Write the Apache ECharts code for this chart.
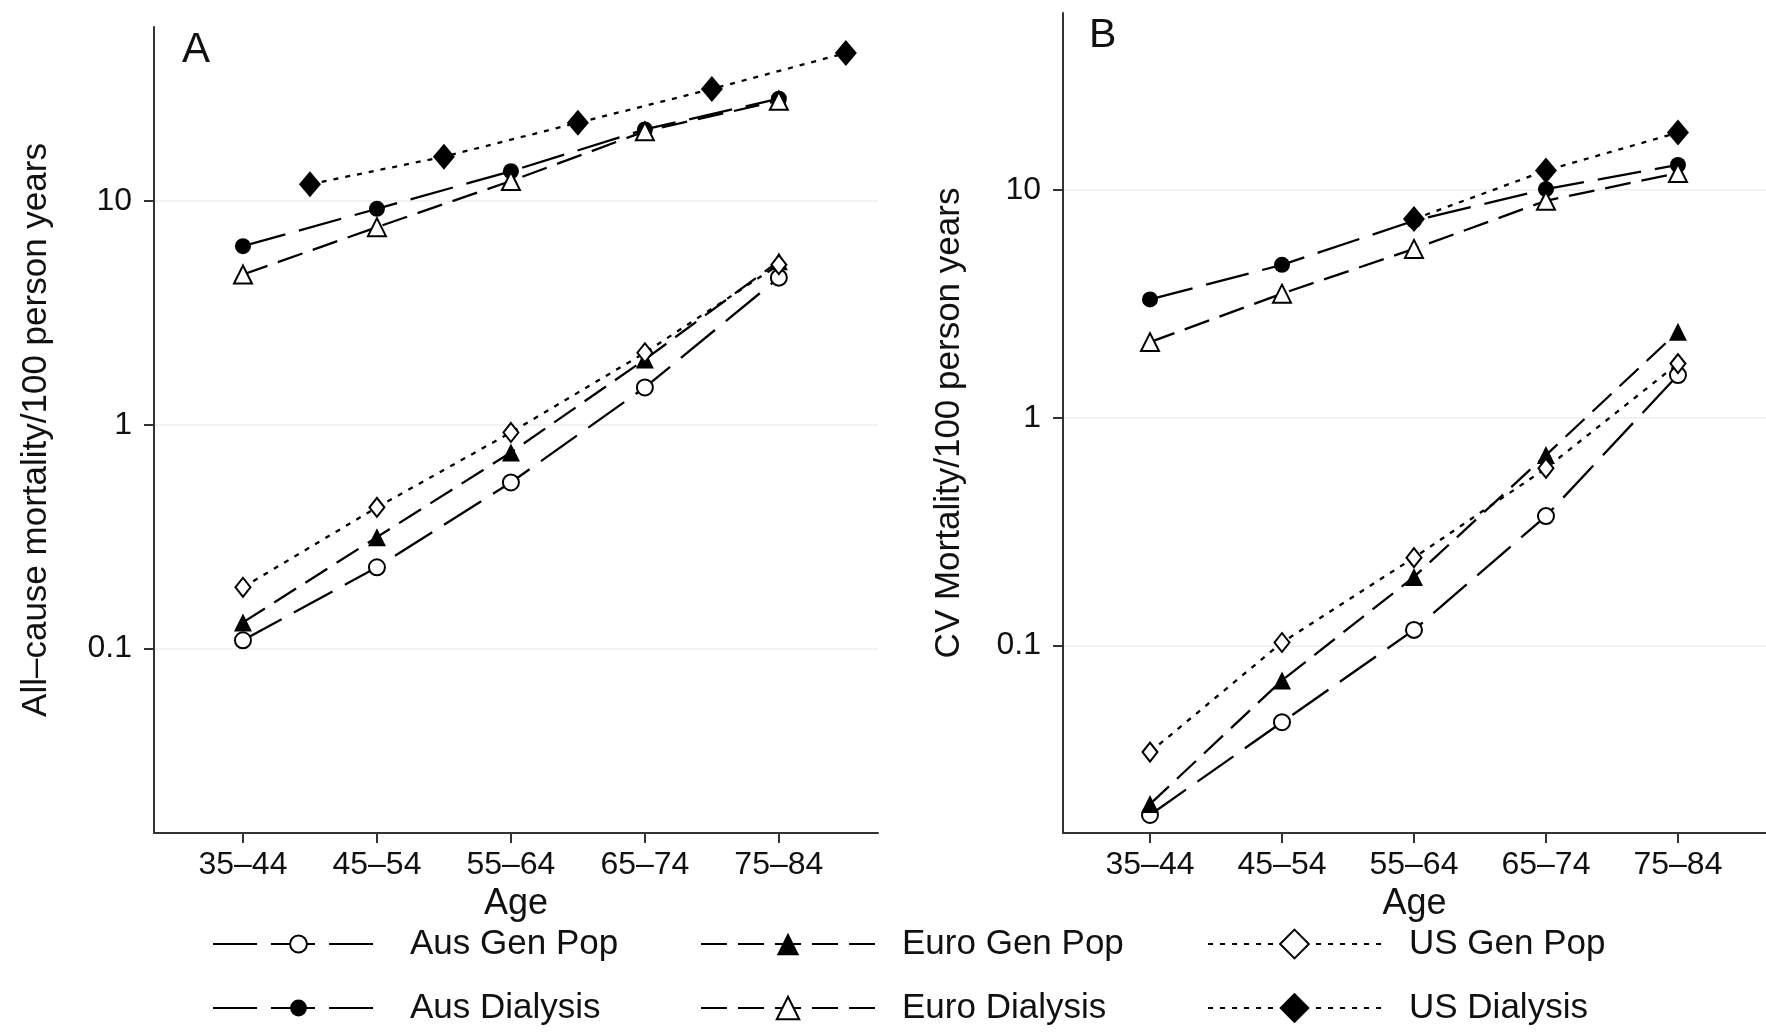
<!DOCTYPE html>
<html><head><meta charset="utf-8">
<script src="https://cdn.jsdelivr.net/npm/echarts@6/dist/echarts.min.js"></script>
<style>html,body{margin:0;padding:0;background:#fff}#c{width:1766px;height:1033px}</style>
</head><body><div id="c"></div>
<script>
const ageGroups = ['35–44','45–54','55–64','65–74','75–84'];
const agePos = [0, 1, 2, 3, 4];
const yTicks = [0.1, 1, 10];

// Panel A: all-cause mortality / 100 person years
const A_ausGen   = [0.109, 0.231, 0.553, 1.47, 4.55];
const A_euroGen  = [0.131, 0.315, 0.753, 1.96, 5.39];
const A_usGen    = [0.188, 0.428, 0.925, 2.10, 5.2];
const A_ausDial  = [6.29, 9.24, 13.6, 20.9, 28.7];
const A_euroDial = [4.70, 7.65, 12.3, 20.5, 28.1];
const A_usDialPos = [0.5, 1.5, 2.5, 3.5, 4.5];
const A_usDial   = [11.9, 15.8, 22.4, 31.7, 45.9];

// Panel B: CV mortality / 100 person years
const B_ausGen   = [0.0180, 0.046, 0.117, 0.370, 1.54];
const B_euroGen  = [0.0201, 0.0702, 0.200, 0.686, 2.39];
const B_usGen    = [0.034, 0.103, 0.243, 0.600, 1.73];
const B_ausDial  = [3.31, 4.70, 7.34, 10.1, 12.9];
const B_euroDial = [2.15, 3.51, 5.52, 8.98, 11.9];
const B_usDialPos = [2, 3, 4];
const B_usDial   = [7.46, 12.2, 17.9];

const FONT = '"Liberation Sans", Arial, Helvetica, sans-serif';
const styles = {
  'Aus Gen Pop':   {dash:[44,14], symbol:'circle',   size:16, open:true,  leg:21},
  'Aus Dialysis':  {dash:[44,14], symbol:'circle',   size:16, open:false, leg:21},
  'Euro Gen Pop':  {dash:[26,11], symbol:'triangle', size:18, open:false, leg:28},
  'Euro Dialysis': {dash:[26,11], symbol:'triangle', size:18, open:true,  leg:28},
  'US Gen Pop':    {dash:[5,7],   symbol:'diamond',  size:[15,19], open:true,  leg:36},
  'US Dialysis':   {dash:[5,7],   symbol:'diamond',  size:[22,26], open:false, leg:38}
};
const pair = (xs, ys) => ys.map((v, i) => [xs[i], v]);

function mk(name, g, data) {
  const s = styles[name];
  return {
    name, type: 'line', xAxisIndex: g, yAxisIndex: g, data,
    symbol: s.symbol, symbolSize: s.size, showSymbol: true, showAllSymbol: true,
    lineStyle: {color: '#000', width: 2.3, type: s.dash},
    itemStyle: {color: s.open ? '#fff' : '#000', borderColor: '#000', borderWidth: s.open ? 2 : 0},
    emphasis: {disabled: true}, z: 3
  };
}

const fmtY = v => (v < 1 ? v.toFixed(1) : String(Math.round(v)));
const axisCol = '#333';
function yAx(g, name, gap) {
  return {
    type: 'log', logBase: 10, min: 0.015, max: 60, gridIndex: g,
    axisLine: {show: true, onZero: false, lineStyle: {color: axisCol, width: 2}},
    axisTick: {show: true, length: 10, customValues: yTicks, lineStyle: {color: axisCol, width: 2}},
    axisLabel: {customValues: yTicks, formatter: fmtY, fontSize: 32, color: '#111', margin: 22, fontFamily: FONT},
    splitLine: {show: true, lineStyle: {color: '#eeeeee', width: 1.5}},
    minorTick: {show: false}, minorSplitLine: {show: false},
    name, nameLocation: 'middle', nameGap: gap,
    nameTextStyle: {fontSize: 35, color: '#111', fontFamily: FONT}
  };
}
function xAx(g, min, max) {
  return {
    type: 'value', min, max, gridIndex: g,
    axisLine: {show: true, onZero: false, lineStyle: {color: axisCol, width: 2}},
    axisTick: {show: true, length: 10, customValues: agePos, lineStyle: {color: axisCol, width: 2}},
    axisLabel: {customValues: agePos, formatter: v => ageGroups[Math.round(v)], fontSize: 32, color: '#111', margin: 16, fontFamily: FONT},
    splitLine: {show: false},
    name: 'Age', nameLocation: 'middle', nameGap: 50,
    nameTextStyle: {fontSize: 36, color: '#111', fontFamily: FONT}
  };
}

const legendCols = [
  {x: 212, w: 171, pad: 21},
  {x: 700, w: 174, pad: 22},
  {x: 1207, w: 173, pad: 23}
];
const legendRows = [944, 1008];
const legendLayout = [
  ['Aus Gen Pop', 0, 0], ['Euro Gen Pop', 1, 0], ['US Gen Pop', 2, 0],
  ['Aus Dialysis', 0, 1], ['Euro Dialysis', 1, 1], ['US Dialysis', 2, 1]
];
const legends = legendLayout.map(([name, c, r]) => {
  const col = legendCols[c];
  const ih = styles[name].leg;
  return {
    data: [name], left: col.x, top: legendRows[r] - 20, padding: 0,
    itemWidth: col.w, itemHeight: ih, selectedMode: false,
    textStyle: {fontSize: 35, color: '#111', fontFamily: FONT, lineHeight: 40, padding: [0, 0, 0, col.pad]}
  };
});

const option = {
  animation: false,
  backgroundColor: '#fff',
  grid: [
    {left: 154, top: 27, width: 724, bottom: 200, containLabel: false},
    {left: 1063, top: 13, right: 0, bottom: 200, containLabel: false}
  ],
  xAxis: [xAx(0, -0.664, 4.74), xAx(1, -0.659, 4.667)],
  yAxis: [yAx(0, 'All–cause mortality/100 person years', 100), yAx(1, 'CV Mortality/100 person years', 96)],
  legend: legends,
  graphic: [
    {type: 'text', left: 182, top: 29, style: {text: 'A', fontSize: 42, fill: '#111', fontFamily: FONT}},
    {type: 'text', left: 1089, top: 15, style: {text: 'B', fontSize: 41, fill: '#111', fontFamily: FONT}}
  ],
  series: [
    mk('Aus Gen Pop', 0, pair(agePos, A_ausGen)),
    mk('Euro Gen Pop', 0, pair(agePos, A_euroGen)),
    mk('US Gen Pop', 0, pair(agePos, A_usGen)),
    mk('Aus Dialysis', 0, pair(agePos, A_ausDial)),
    mk('Euro Dialysis', 0, pair(agePos, A_euroDial)),
    mk('US Dialysis', 0, pair(A_usDialPos, A_usDial)),
    mk('Aus Gen Pop', 1, pair(agePos, B_ausGen)),
    mk('Euro Gen Pop', 1, pair(agePos, B_euroGen)),
    mk('US Gen Pop', 1, pair(agePos, B_usGen)),
    mk('Aus Dialysis', 1, pair(agePos, B_ausDial)),
    mk('Euro Dialysis', 1, pair(agePos, B_euroDial)),
    mk('US Dialysis', 1, pair(B_usDialPos, B_usDial))
  ]
};
const chart = echarts.init(document.getElementById('c'), null, {renderer: 'canvas'});
chart.setOption(option);
</script></body></html>
